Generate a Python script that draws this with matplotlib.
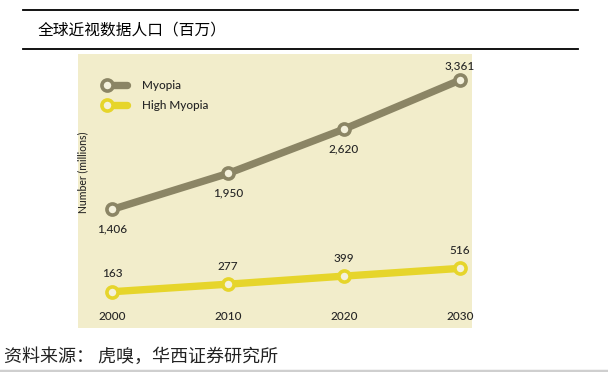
import matplotlib
matplotlib.use("Agg")
import matplotlib.pyplot as plt
import numpy as np
from matplotlib.lines import Line2D
from matplotlib.legend_handler import HandlerBase

# ---- data ----
years = [2000, 2010, 2020, 2030]
myopia = [1406, 1950, 2620, 3361]
high_myopia = [163, 277, 399, 516]
myopia_labels = ["1,406", "1,950", "2,620", "3,361"]
high_labels = ["163", "277", "399", "516"]
series_names = ["Myopia", "High Myopia"]
title = "全球近视数据人口（百万）"
source = "资料来源： 虎嗅，华西证券研究所"
ylabel = "Number (millions)"

# ---- style ----
BG = "#F2EDCB"
HOLE = "#F4F1DC"
C_MY = "#8B8565"
C_HI = "#E6D52B"
TXT = "#262626"
LATIN = ["Lato", "DejaVu Sans"]
CJK = ["Noto Sans CJK SC", "DejaVu Sans"]
W = "medium"

fig = plt.figure(figsize=(6.08, 3.72), dpi=100)
fig.patch.set_facecolor("white")

ax = fig.add_axes([78/608, 1-328/372, 394/608, 274/372])
ax.set_facecolor(BG)
for s in ax.spines.values():
    s.set_visible(False)
ax.set_xlim(1997.07, 2031.03)
ax.set_ylim(-385, 3755)
ax.set_yticks([])
ax.set_xticks(years)
ax.set_xticklabels([str(y) for y in years], family=LATIN, fontsize=8.5, color=TXT, weight=W)
ax.tick_params(axis="x", length=0, pad=-12.5)

mk = dict(marker="o", markersize=8, markerfacecolor=HOLE, markeredgewidth=2.6)
ax.plot(years, myopia, color=C_MY, lw=5.3, markeredgecolor=C_MY, solid_capstyle="round", zorder=3, **mk)
ax.plot(years, high_myopia, color=C_HI, lw=5.3, markeredgecolor=C_HI, solid_capstyle="round", zorder=3, **mk)

for i, (x, v, t) in enumerate(zip(years, myopia, myopia_labels)):
    off = 10 if i == len(years) - 1 else -14
    ax.annotate(t, (x, v), xytext=(0, off), textcoords="offset points",
                ha="center", va="center", fontsize=8.5, family=LATIN, color=TXT, weight=W)
for x, v, t in zip(years, high_myopia, high_labels):
    ax.annotate(t, (x, v), xytext=(0, 13), textcoords="offset points",
                ha="center", va="center", fontsize=8.5, family=LATIN, color=TXT, weight=W)

ax.text(0.013, 0.569, ylabel, transform=ax.transAxes, rotation=90, ha="center", va="center",
        fontsize=7.6, family=LATIN, color=TXT, weight=W)


class KeyHandler(HandlerBase):
    def create_artists(self, legend, orig_handle, xdescent, ydescent, width, height, fontsize, trans):
        c = orig_handle.get_color()
        y = (height - ydescent) / 2
        x0 = -xdescent
        x1 = width - xdescent
        line = Line2D([x0 + 5, x1 - 2.5], [y, y], color=c, lw=5.3, solid_capstyle="round", transform=trans)
        mark = Line2D([x0 + 5], [y], marker="o", markersize=8, markerfacecolor=HOLE,
                      markeredgecolor=c, markeredgewidth=2.6, linestyle="none", transform=trans)
        return [line, mark]


handles = [Line2D([], [], color=C_MY), Line2D([], [], color=C_HI)]
leg = ax.legend(handles, series_names, handler_map={Line2D: KeyHandler()},
                loc="upper left", bbox_to_anchor=(0.057, 0.905), frameon=False,
                borderpad=0, borderaxespad=0, handlelength=2.55, handletextpad=1.0,
                labelspacing=0.8, prop={"family": LATIN, "size": 8.5, "weight": W})
for t in leg.get_texts():
    t.set_color(TXT)

# header lines & texts
fig.add_artist(Line2D([23/608, 578/608], [1-10/372, 1-10/372], color="black", lw=1.3, transform=fig.transFigure))
fig.add_artist(Line2D([23/608, 578/608], [1-49/372, 1-49/372], color="black", lw=1.3, transform=fig.transFigure))
fig.text(38/608, 1-30/372, title, ha="left", va="center", fontsize=11.3, family=CJK, color="black")
fig.text(4/608, 1-357/372, source, ha="left", va="center", fontsize=13, family=CJK, color="#222222")
fig.add_artist(Line2D([0, 1], [1-370.5/372, 1-370.5/372], color="#cfcfcf", lw=2.5, transform=fig.transFigure))

fig.savefig("out.png", dpi=100, facecolor="white")
